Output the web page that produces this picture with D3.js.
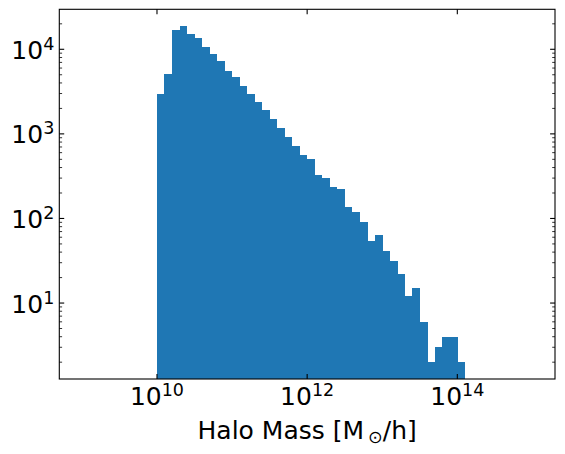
<!DOCTYPE html>
<html>
<head>
<meta charset="utf-8">
<script src="https://cdn.jsdelivr.net/npm/d3@7"></script>
<style>
  body { margin: 0; background: #fff; }
  svg text { font-family: "DejaVu Sans", sans-serif; fill: #000; }
</style>
</head>
<body>
<svg id="chart" width="565" height="454"></svg>
<script>
// log10 of the bin edges (0.1 dex bins) and the halo counts per bin
const binLogEdges = [10.0, 10.1, 10.2, 10.3, 10.4, 10.5, 10.6, 10.7, 10.8, 10.9,
  11.0, 11.1, 11.2, 11.3, 11.4, 11.5, 11.6, 11.7, 11.8, 11.9,
  12.0, 12.1, 12.2, 12.3, 12.4, 12.5, 12.6, 12.7, 12.8, 12.9,
  13.0, 13.1, 13.2, 13.3, 13.4, 13.5, 13.6, 13.7, 13.8, 13.9,
  14.0, 14.1];
const counts = [2970, 5110, 16900, 18800, 15200, 13600, 10600, 8800, 7280, 5540,
  4710, 3690, 2965, 2385, 1920, 1500, 1178, 922, 721, 565,
  507, 328, 303, 237, 224, 137, 120, 91, 54, 64,
  41, 31, 22, 12, 15, 6, 2, 3, 4, 4,
  2];
const xTickExps = [10, 12, 14];
const yTickExps = [1, 2, 3, 4];
const xLimits = [5e8, 2e15];
const yLimits = [1.265, 29700];

const svg = d3.select('#chart');
const margin = { left: 59.3, top: 9.3 };
const plotW = 555 - margin.left;
const plotH = 379 - margin.top;
const barColor = '#1f77b4';
const fontSize = 25;
const supSize = 17.5;

const x = d3.scaleLog().domain(xLimits).range([0, plotW]);
const y = d3.scaleLog().domain(yLimits).range([plotH, 0]);

const g = svg.append('g').attr('transform', `translate(${margin.left},${margin.top})`);

g.append('clipPath').attr('id', 'plot-clip')
  .append('rect').attr('width', plotW).attr('height', plotH);

// bars
const bins = counts.map((c, i) => ({ x0: 10 ** binLogEdges[i], x1: 10 ** binLogEdges[i + 1], c }));
g.append('g').attr('clip-path', 'url(#plot-clip)')
  .selectAll('rect').data(bins).enter()
  .append('rect')
  .attr('x', d => x(d.x0))
  .attr('width', d => x(d.x1) - x(d.x0) + 0.3)
  .attr('y', d => y(d.c))
  .attr('height', d => plotH - y(d.c))
  .attr('fill', barColor)
  .attr('shape-rendering', 'crispEdges');

// ticks, pointing inwards on all four sides
const majorLen = 4.9;
const minorLen = 2.8;
const ticks = g.append('g').attr('stroke', '#000');
xTickExps.forEach((e) => {
  const px = x(10 ** e);
  ticks.append('line').attr('x1', px).attr('x2', px).attr('y1', plotH).attr('y2', plotH - majorLen).attr('stroke-width', 1.1);
  ticks.append('line').attr('x1', px).attr('x2', px).attr('y1', 0).attr('y2', majorLen).attr('stroke-width', 1.1);
});
const yMinor = [];
for (let k = 0; k <= 4; k += 1) {
  for (let m = 2; m <= 9; m += 1) {
    const v = m * 10 ** k;
    if (v > yLimits[0] && v < yLimits[1]) yMinor.push(v);
  }
}
yMinor.forEach((v) => {
  const py = y(v);
  ticks.append('line').attr('x1', 0).attr('x2', minorLen).attr('y1', py).attr('y2', py).attr('stroke-width', 0.8);
  ticks.append('line').attr('x1', plotW).attr('x2', plotW - minorLen).attr('y1', py).attr('y2', py).attr('stroke-width', 0.8);
});
yTickExps.forEach((e) => {
  const py = y(10 ** e);
  ticks.append('line').attr('x1', 0).attr('x2', majorLen).attr('y1', py).attr('y2', py).attr('stroke-width', 1.1);
  ticks.append('line').attr('x1', plotW).attr('x2', plotW - majorLen).attr('y1', py).attr('y2', py).attr('stroke-width', 1.1);
});

// frame
g.append('rect').attr('width', plotW).attr('height', plotH)
  .attr('fill', 'none').attr('stroke', '#000').attr('stroke-width', 1.1);

// tick labels: 10 with superscript exponent
function powerLabel(sel, e) {
  sel.append('tspan').text('10');
  sel.append('tspan').attr('dy', -9).attr('font-size', `${supSize}px`).text(e);
}
xTickExps.forEach((e) => {
  const t = g.append('text')
    .attr('x', x(10 ** e))
    .attr('y', plotH + 26.5)
    .attr('text-anchor', 'middle')
    .attr('font-size', `${fontSize}px`);
  powerLabel(t, e);
});
yTickExps.forEach((e) => {
  const t = g.append('text')
    .attr('x', -5)
    .attr('y', y(10 ** e) + 9.5)
    .attr('text-anchor', 'end')
    .attr('font-size', `${fontSize}px`);
  powerLabel(t, e);
});

// axis label
const label = g.append('text')
  .attr('x', plotW / 2)
  .attr('y', plotH + 60)
  .attr('text-anchor', 'middle')
  .attr('font-size', `${fontSize}px`);
label.append('tspan').text('Halo Mass [M');
label.append('tspan').attr('dx', 4).attr('dy', 4).attr('font-size', `${supSize}px`).text('\u2299');
label.append('tspan').attr('dy', -4).text('/h]');
</script>
</body>
</html>
